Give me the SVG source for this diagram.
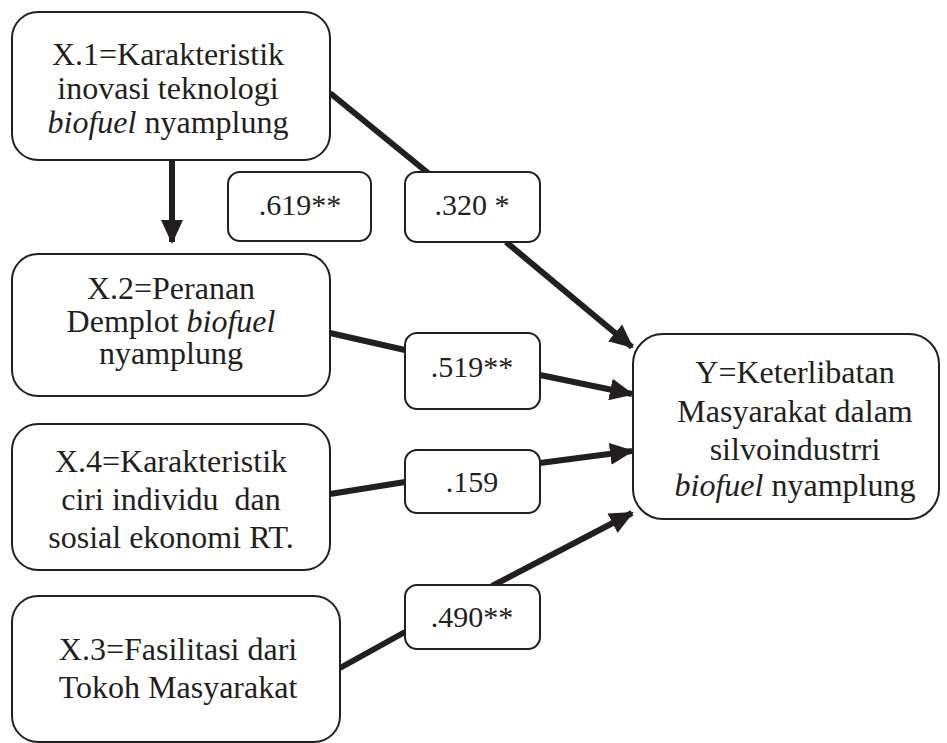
<svg xmlns="http://www.w3.org/2000/svg" width="947" height="743" viewBox="0 0 947 743" font-family="Liberation Serif, serif">
<style>
.box{fill:#fff;stroke:#231f20;stroke-width:2}
.t{font-size:32px;fill:#231f20;text-anchor:middle}
.w{font-size:30px;fill:#231f20;text-anchor:middle}
.c{stroke:#231f20;stroke-width:6;fill:none}
</style>
<defs>
<marker id="ah" markerUnits="userSpaceOnUse" viewBox="0 0 24 22" markerWidth="24" markerHeight="22" refX="22" refY="11" orient="auto">
<path d="M0,0 L24,11 L0,22 Z" fill="#231f20"/>
</marker>
</defs>
<rect width="947" height="743" fill="#fff"/>
<g id="connectors">
<line class="c" x1="172" y1="160" x2="172" y2="242" marker-end="url(#ah)"/>
<line class="c" x1="330" y1="93" x2="428" y2="173"/>
<line class="c" x1="506" y1="242" x2="632" y2="347" marker-end="url(#ah)"/>
<line class="c" x1="330" y1="333" x2="405" y2="350"/>
<line class="c" x1="540" y1="375" x2="632" y2="394" marker-end="url(#ah)"/>
<line class="c" x1="330" y1="494" x2="405" y2="482"/>
<line class="c" x1="540" y1="463" x2="632" y2="451" marker-end="url(#ah)"/>
<line class="c" x1="340" y1="668" x2="405" y2="632"/>
<line class="c" x1="492" y1="586" x2="632" y2="513" marker-end="url(#ah)"/>
</g>
<g id="x1">
<rect class="box" x="12" y="12" width="318" height="148" rx="26"/>
<text class="t" x="168" y="65" font-size="30">X.1=Karakteristik</text>
<text class="t" x="168" y="99" font-size="30">inovasi teknologi</text>
<text class="t" x="168" y="133" font-size="30"><tspan font-style="italic">biofuel</tspan> nyamplung</text>
</g>
<g id="x2">
<rect class="box" x="12" y="254" width="318" height="142" rx="26"/>
<text class="t" x="171" y="299" font-size="27">X.2=Peranan</text>
<text class="t" x="171" y="332" font-size="27">Demplot <tspan font-style="italic">biofuel</tspan></text>
<text class="t" x="171" y="364" font-size="27">nyamplung</text>
</g>
<g id="x4">
<rect class="box" x="12" y="424" width="318" height="146" rx="26"/>
<text class="t" x="171" y="472" font-size="33">X.4=Karakteristik</text>
<text class="t" x="171" y="510" font-size="33" xml:space="preserve">ciri individu  dan</text>
<text class="t" x="171" y="548" font-size="33">sosial ekonomi RT.</text>
</g>
<g id="x3">
<rect class="box" x="12" y="596" width="328" height="146" rx="26"/>
<text class="t" x="178" y="660" font-size="33">X.3=Fasilitasi dari</text>
<text class="t" x="178" y="698" font-size="33">Tokoh Masyarakat</text>
</g>
<g id="y">
<rect class="box" x="633" y="334" width="306" height="185" rx="30"/>
<text class="t" x="795" y="383">Y=Keterlibatan</text>
<text class="t" x="795" y="422">Masyarakat dalam</text>
<text class="t" x="795" y="460">silvoindustrri</text>
<text class="t" x="795" y="496"><tspan font-style="italic">biofuel</tspan> nyamplung</text>
</g>
<g id="w619">
<rect class="box" x="228" y="172" width="143" height="69" rx="12"/>
<text class="w" x="300" y="215">.619**</text>
</g>
<g id="w320">
<rect class="box" x="405" y="172" width="135" height="70" rx="12"/>
<text class="w" x="472" y="215">.320 *</text>
</g>
<g id="w519">
<rect class="box" x="405" y="333" width="135" height="76" rx="12"/>
<text class="w" x="472" y="377">.519**</text>
</g>
<g id="w159">
<rect class="box" x="405" y="450" width="135" height="63" rx="12"/>
<text class="w" x="472" y="492">.159</text>
</g>
<g id="w490">
<rect class="box" x="405" y="585" width="135" height="64" rx="12"/>
<text class="w" x="472" y="627" font-size="28">.490**</text>
</g>
</svg>
